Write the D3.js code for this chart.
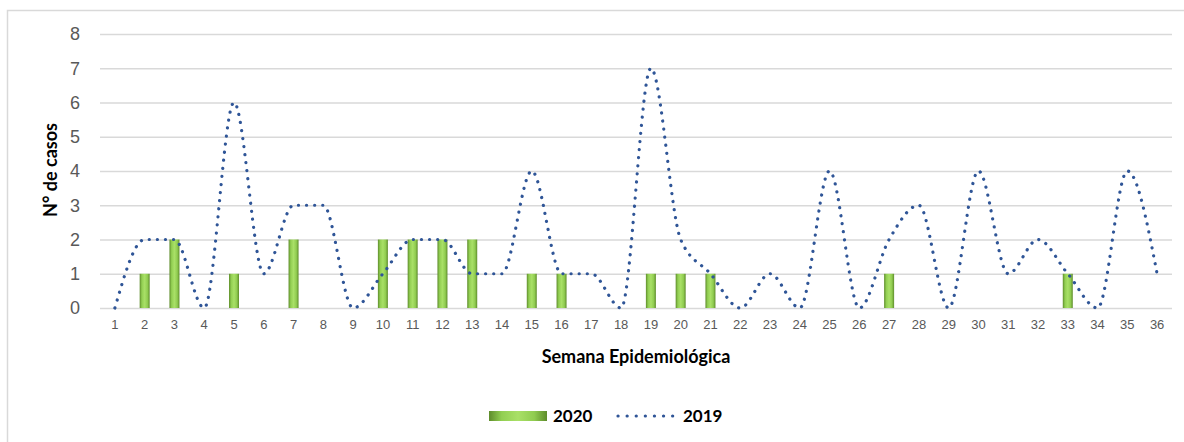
<!DOCTYPE html>
<html>
<head>
<meta charset="utf-8">
<script src="https://cdn.jsdelivr.net/npm/d3@7"></script>
<style>
  body { margin: 0; background: #fff; }
  svg { display: block; font-family: Lato, "Open Sans", sans-serif; }
  .tick text { fill: #595959; }
</style>
</head>
<body>
<svg width="1184" height="442"></svg>
<script>
// weeks 1..36
const weeks = d3.range(1, 37);
const cases2020 = [0,1,2,0,1,0,2,0,0,2,2,2,2,0,1,1,0,0,1,1,1,0,0,0,0,0,1,0,0,0,0,0,1,0,0,0];
const cases2019 = [0,2,2,0,6,1,3,3,0,1,2,2,1,1,4,1,1,0,7,2,1,0,1,0,4,0,2,3,0,4,1,2,1,0,4,1];
const yTicks = [0,1,2,3,4,5,6,7,8];

const svg = d3.select("svg");

// chart frame
svg.append("rect")
  .attr("x", 7.5).attr("y", 10.5)
  .attr("width", 1200).attr("height", 450)
  .attr("fill", "none")
  .attr("stroke", "#d9d9d9")
  .attr("stroke-width", 1.5);

const scaleX = d3.scaleBand()
  .domain(weeks)
  .range([100, 1172]);

const scaleY = d3.scaleLinear()
  .domain([0, 8])
  .range([308, 34]);

// gradient for the bars
const defs = svg.append("defs");
const grad = defs.append("linearGradient").attr("id", "barGrad")
  .attr("x1", "0").attr("x2", "1").attr("y1", "0").attr("y2", "0");
[["0%", "#5e8c2b"], ["22%", "#92cf52"], ["50%", "#a9e067"], ["78%", "#90cc50"], ["100%", "#5e8c2b"]]
  .forEach(s => grad.append("stop").attr("offset", s[0]).attr("stop-color", s[1]));

// gridlines + y labels
const axisY = d3.axisLeft(scaleY)
  .tickValues(yTicks)
  .tickSize(-1072)
  .tickPadding(20)
  .tickFormat(d3.format("d"));

svg.append("g")
  .attr("class", "y-axis")
  .attr("transform", "translate(100,0)")
  .call(axisY)
  .call(g => g.select(".domain").remove())
  .call(g => g.selectAll("line").attr("stroke", "#d9d9d9").attr("stroke-width", 1.3))
  .call(g => g.selectAll("text").attr("font-size", 18));

// x labels
const axisX = d3.axisBottom(scaleX)
  .tickSize(0)
  .tickPadding(12);

svg.append("g")
  .attr("class", "x-axis")
  .attr("transform", "translate(0,308)")
  .call(axisX)
  .call(g => g.select(".domain").remove())
  .call(g => g.selectAll("text").attr("font-size", 13));

// bars 2020
const barW = 10;
svg.append("g")
  .selectAll("rect")
  .data(weeks.map((w, i) => ({ w, v: cases2020[i] })).filter(d => d.v > 0))
  .join("rect")
  .attr("x", d => scaleX(d.w) + scaleX.bandwidth() / 2 - barW / 2)
  .attr("y", d => scaleY(d.v))
  .attr("width", barW)
  .attr("height", d => scaleY(0) - scaleY(d.v))
  .attr("fill", "url(#barGrad)");

// line 2019 (smoothed, no overshoot)
const line = d3.line()
  .x((d, i) => scaleX(weeks[i]) + scaleX.bandwidth() / 2)
  .y(d => scaleY(d))
  .curve(d3.curveMonotoneX);

svg.append("path")
  .datum(cases2019)
  .attr("d", line)
  .attr("fill", "none")
  .attr("stroke", "#2f5597")
  .attr("stroke-width", 3.2)
  .attr("stroke-linecap", "round")
  .attr("stroke-dasharray", "0.1 8");

// axis titles
svg.append("text")
  .attr("transform", "translate(57,170) rotate(-90)")
  .attr("text-anchor", "middle")
  .attr("font-size", 18)
  .attr("font-weight", "bold")
  .text("N° de casos");

svg.append("text")
  .attr("x", 636).attr("y", 363)
  .attr("text-anchor", "middle")
  .attr("font-size", 18)
  .attr("font-weight", "bold")
  .text("Semana Epidemiológica");

// legend
const legend = svg.append("g").attr("class", "legend");
legend.append("rect")
  .attr("x", 489).attr("y", 411)
  .attr("width", 58).attr("height", 10)
  .attr("fill", "url(#barGrad)");
legend.append("text")
  .attr("x", 553).attr("y", 422)
  .attr("font-size", 17).attr("font-weight", "bold")
  .text("2020");
legend.append("line")
  .attr("x1", 618).attr("x2", 673)
  .attr("y1", 416).attr("y2", 416)
  .attr("stroke", "#2f5597")
  .attr("stroke-width", 3.2)
  .attr("stroke-linecap", "round")
  .attr("stroke-dasharray", "0.1 9");
legend.append("text")
  .attr("x", 683).attr("y", 422)
  .attr("font-size", 17).attr("font-weight", "bold")
  .text("2019");
</script>
</body>
</html>
